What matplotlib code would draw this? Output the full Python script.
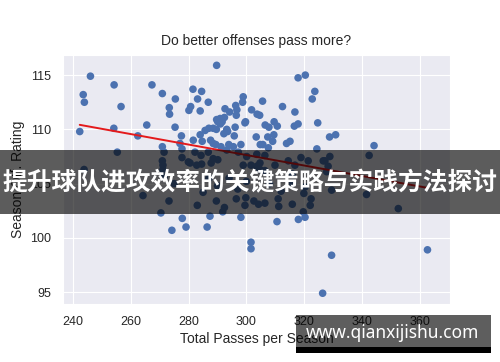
import numpy as np
import matplotlib
matplotlib.use("Agg")
import matplotlib.pyplot as plt
import seaborn as sns
from matplotlib.patches import Rectangle

# passes per season / offensive rating
passes = [
    246.0, 243.5, 243.9, 254.2, 256.6, 267.3, 270.9, 275.4, 273.3, 273.4,
    281.5, 280.7, 280.1, 254.1, 265.5, 242.3, 262.4, 275.3, 277.5, 277.0,
    270.9, 277.7, 289.7, 317.9, 320.4, 323.7, 322.8, 284.5, 283.1, 286.8,
    284.0, 292.6, 294.2, 296.3, 296.7, 296.5, 298.9, 298.7, 301.8, 305.6,
    303.7, 304.6, 312.5, 316.8, 292.4, 291.6, 291.0, 290.1, 299.7, 309.6,
    306.5, 307.8, 310.7, 316.6, 317.9, 324.7, 287.0, 285.7, 293.2, 292.2,
    293.5, 296.1, 295.8, 289.6, 284.0, 284.7, 303.4, 307.4, 309.5, 309.1,
    313.9, 315.1, 304.8, 305.7, 298.1, 288.5, 289.4, 291.2, 293.9, 324.4,
    328.8, 330.9, 344.2, 281.6, 287.6, 289.7, 290.9, 299.5, 295.5, 288.5,
    # hidden under the banner
    282.2, 284.3, 286.8, 288.5, 290.1, 293.2, 297.2, 300.1, 303.6, 306.4,
    307.6, 314.5, 318.9, 321.4, 326.6, 284.5, 287.8, 298.9, 301.6, 304.7,
    309.9, 316.8, 342.5, 327.2, 327.8, 255.3, 271.5, 277.7, 279.9, 270.9,
    271.1, 271.1, 243.8, 271.5, 280.5, 282.8, 303.6, 304.7, 306.4, 315.9,
    316.0, 320.3, 319.9, 328.9, 328.3, 264.2, 273.2, 270.4, 289.6, 291.8,
    292.4, 296.5, 299.8, 299.5, 302.6, 304.2, 306.4, 311.0, 311.2, 315.9,
    319.7, 322.4, 322.1, 341.6, 329.5, 352.6, 287.0, 290.0, 294.0, 297.0,
    300.0, 308.0, 312.0, 285.0, 275.0, 283.0,
    # below the banner
    274.2, 277.8, 279.1, 286.4, 287.4, 298.1, 301.6, 301.6, 310.6, 318.0,
    320.3, 329.5, 362.7, 326.4,
]
rating = [
    114.9, 113.2, 112.5, 114.1, 112.1, 114.1, 113.3, 112.8, 112.0, 111.4,
    113.7, 112.1, 111.75, 110.1, 110.4, 109.8, 109.4, 110.2, 109.4, 108.7,
    108.4, 108.2, 115.9, 114.75, 115.0, 113.5, 112.8, 113.5, 112.8, 112.5,
    111.7, 111.9, 111.6, 112.2, 111.8, 111.3, 113.0, 112.5, 111.8, 112.6,
    111.4, 111.3, 112.1, 111.6, 111.1, 110.7, 110.5, 110.7, 110.7, 110.7,
    110.4, 110.2, 110.3, 110.3, 110.5, 110.6, 110.1, 109.9, 110.0, 109.6,
    109.8, 110.2, 109.4, 110.0, 109.5, 108.9, 109.3, 109.3, 109.5, 108.9,
    108.7, 108.9, 108.6, 108.6, 108.6, 108.7, 108.6, 108.4, 108.6, 108.2,
    109.3, 109.5, 108.5, 109.0, 109.0, 110.9, 111.0, 110.6, 108.4, 110.1,
    107.9, 107.6, 107.9, 107.3, 107.2, 108.1, 107.9, 107.5, 107.7, 107.6,
    108.3, 107.1, 107.4, 107.1, 107.1, 106.8, 106.9, 106.7, 106.7, 106.9,
    106.7, 106.7, 107.6, 107.1, 106.1, 107.9, 107.9, 107.4, 107.0, 107.1,
    106.7, 106.3, 106.3, 105.6, 106.9, 106.7, 106.6, 106.3, 106.2, 105.9,
    105.0, 104.7, 104.1, 107.5, 106.6, 103.9, 103.4, 102.3, 103.4, 102.4,
    102.8, 103.6, 103.7, 103.0, 103.4, 103.1, 103.2, 103.6, 102.9, 103.1,
    102.4, 103.6, 103.0, 104.0, 104.4, 102.7, 105.5, 104.8, 105.5, 104.5,
    105.2, 105.0, 104.3, 104.2, 105.0, 103.0,
    100.7, 101.8, 101.0, 101.0, 102.0, 101.9, 99.6, 99.0, 101.5, 101.7,
    101.9, 98.4, 98.9, 94.9,
]

title = "Do better offenses pass more?"
xlabel = "Total Passes per Season"
ylabel = "Season Off. Rating"
banner = "提升球队进攻效率的关键策略与实践方法探讨"
watermark = "www.qianxijishu.com"

sns.set_style("darkgrid")
plt.rcParams['font.family'] = ['Liberation Sans', 'DejaVu Sans']

fig = plt.figure(figsize=(5, 3.62), dpi=100)
ax = fig.add_axes([0.126, 0.160, 0.774, 0.688])

x = np.array(passes)
y = np.array(rating)
ax.scatter(x, y, s=30, color='#4c72b0', edgecolor='none', zorder=3)

# least squares line over the data range
slope, icpt = np.polyfit(x, y, 1)
xs = np.array([x.min(), x.max()])
ax.plot(xs, icpt + slope * xs, color='#e41a1c', lw=1.4, zorder=4)

ax.set_xlim(236.5, 370.5)
ax.set_ylim(93.9, 116.85)
ax.set_xticks([240, 260, 280, 300, 320, 340, 360])
ax.set_yticks([95, 100, 105, 110, 115])
ax.tick_params(labelsize=9, colors='#262626', pad=5)
ax.set_title(title, fontsize=10, color='#262626', pad=7)
ax.set_xlabel(xlabel, fontsize=10, color='#262626', labelpad=3)
ax.set_ylabel(ylabel, fontsize=10, color='#262626', labelpad=4)

# banner across the middle
fig.add_artist(Rectangle((0, 1 - 214 / 362), 1, 64 / 362, transform=fig.transFigure,
                         facecolor='black', alpha=0.64, edgecolor='none', zorder=5))
fig.text(0.5, 1 - 183 / 362, banner, color='white', fontsize=17.8, fontweight='bold',
         family=['Noto Sans CJK SC', 'DejaVu Sans'], ha='center', va='center', zorder=6)

# watermark box, bottom right
fig.add_artist(Rectangle((296 / 500, 1 - 347 / 362), 195 / 500, 32 / 362,
                         transform=fig.transFigure, facecolor='black', alpha=0.63,
                         edgecolor='none', zorder=5))
fig.add_artist(Rectangle((296 / 500, 1 - 353 / 362), 195 / 500, 6 / 362,
                         transform=fig.transFigure, facecolor='black',
                         edgecolor='none', zorder=5))
fig.text(393 / 500, 1 - 333 / 362, watermark, color='white', fontsize=12.5, fontweight='bold',
         family=['Noto Sans', 'DejaVu Sans'], ha='center', va='center', zorder=6)

fig.savefig("out.png", dpi=100)
